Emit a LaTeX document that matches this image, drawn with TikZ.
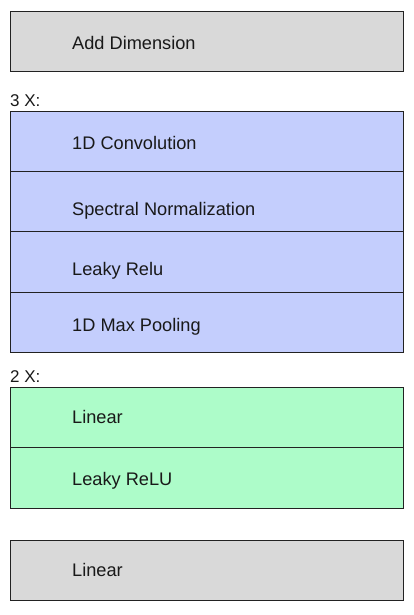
\documentclass[tikz,border=0pt]{standalone}
\usepackage{fontspec}
\setmainfont{Liberation Sans}
\definecolor{boxgray}{HTML}{D9D9D9}
\definecolor{boxblue}{HTML}{C4CEFD}
\definecolor{boxgreen}{HTML}{ADFCC9}
\definecolor{edge}{HTML}{222222}
\begin{document}
\begin{tikzpicture}[x=1pt,y=-1pt,
  layer/.style={draw=edge,line width=1.2pt,minimum width=393pt,minimum height=#1,inner sep=0pt,anchor=north west},
  lbl/.style={anchor=base west,inner sep=0pt,text=black!90,font=\fontsize{18.2}{20}\selectfont},
  rep/.style={anchor=base west,inner sep=0pt,text=black!90,font=\fontsize{17}{20}\selectfont}]
\useasboundingbox (0,0) rectangle (413,615);
% Add Dimension
\node[layer=60pt,fill=boxgray] (add) at (10,11) {};
\node[lbl] (addt) at (72,49.5) {Add Dimension};
% 3 X
\node[rep] (r3) at (10,106.5) {3 X:};
\node[layer=60pt,fill=boxblue] (conv) at (10,111) {};
\node[layer=60pt,fill=boxblue] (spec) at (10,171) {};
\node[layer=61pt,fill=boxblue] (leaky) at (10,231) {};
\node[layer=60pt,fill=boxblue] (pool) at (10,292) {};
\node[lbl] (convt) at (72,149.5) {1D Convolution};
\node[lbl] (spect) at (72,215.5) {Spectral Normalization};
\node[lbl] (leakyt) at (72,275.5) {Leaky Relu};
\node[lbl] (poolt) at (72,331.5) {1D Max Pooling};
% 2 X
\node[rep] (r2) at (10,382.5) {2 X:};
\node[layer=60pt,fill=boxgreen] (lin1) at (10,387) {};
\node[layer=61pt,fill=boxgreen] (lrelu) at (10,447) {};
\node[lbl] (lin1t) at (72,423.5) {Linear};
\node[lbl] (lrelut) at (72,485.5) {Leaky ReLU};
% final
\node[layer=60pt,fill=boxgray] (lin2) at (10,540) {};
\node[lbl] (lin2t) at (72,576.5) {Linear};
\end{tikzpicture}
\end{document}
